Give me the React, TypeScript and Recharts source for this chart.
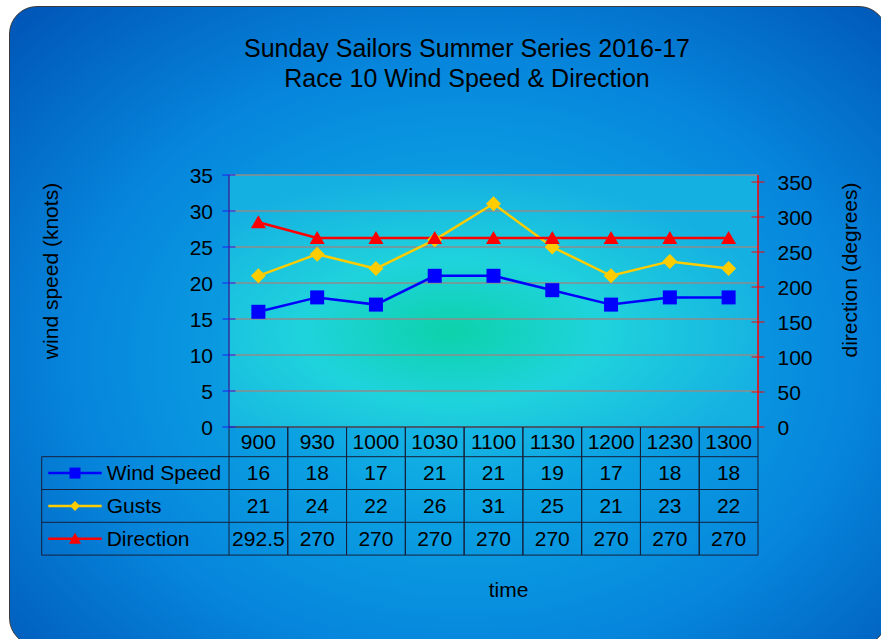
import React from "react";
import { LineChart, Line, XAxis, YAxis, CartesianGrid } from "recharts";

// race 10 readings
const times = ["900", "930", "1000", "1030", "1100", "1130", "1200", "1230", "1300"];
const windSpeed = [16, 18, 17, 21, 21, 19, 17, 18, 18];
const gusts = [21, 24, 22, 26, 31, 25, 21, 23, 22];
const direction = [292.5, 270, 270, 270, 270, 270, 270, 270, 270];
const seriesNames = ["Wind Speed", "Gusts", "Direction"];
const speedTicks = [0, 5, 10, 15, 20, 25, 30, 35];
const directionTicks = [0, 50, 100, 150, 200, 250, 300, 350];

const chartData = times.map((t, i) => ({
    time: t,
    windSpeed: windSpeed[i],
    gusts: gusts[i],
    direction: direction[i]
}));

const FONT = "'Liberation Sans', Arial, sans-serif";
const W = 881;
const H = 639;
const PLOT_LEFT = 229;
const PLOT_RIGHT = 758;
const PLOT_TOP = 175;
const PLOT_BOTTOM = 427;
const COL_W = (PLOT_RIGHT - PLOT_LEFT) / times.length;
const HEADER_H = 29.7;
const ROW_H = 32.8;
const LABEL_W = 187.3;
const GRID_LINE = "#15203a";

const BLUE = "#0000ff";
const YELLOW = "#ffcc00";
const RED = "#ff0000";

const SquareDot = (props: any) => {
    const { cx, cy } = props;
    if (cx == null || cy == null) return null;
    return <rect x={cx - 7} y={cy - 7} width={14} height={14} fill={BLUE} />;
};

const DiamondDot = (props: any) => {
    const { cx, cy } = props;
    if (cx == null || cy == null) return null;
    return <polygon points={`${cx},${cy - 7.5} ${cx + 7.5},${cy} ${cx},${cy + 7.5} ${cx - 7.5},${cy}`} fill={YELLOW} />;
};

const TriangleDot = (props: any) => {
    const { cx, cy } = props;
    if (cx == null || cy == null) return null;
    return <polygon points={`${cx},${cy - 7} ${cx + 7.5},${cy + 6} ${cx - 7.5},${cy + 6}`} fill={RED} />;
};

const legendMarker = (row: number, cx: number, cy: number) => {
    if (row === 0) return <rect x={cx - 5.5} y={cy - 5.5} width={11} height={11} fill={BLUE} />;
    if (row === 1) return <polygon points={`${cx},${cy - 5} ${cx + 5},${cy} ${cx},${cy + 5} ${cx - 5},${cy}`} fill={YELLOW} />;
    return <polygon points={`${cx},${cy - 6} ${cx + 6},${cy + 5} ${cx - 6},${cy + 5}`} fill={RED} />;
};

const seriesColors = [BLUE, YELLOW, RED];

// label column of the data table
const LegendColumn = ({ right, top }: { right: number; top: number }) => {
    const left = right - LABEL_W;
    return (
        <g>
            {seriesNames.map((name, r) => {
                const rowTop = top + r * ROW_H;
                const mid = rowTop + ROW_H / 2;
                return (
                    <g key={name}>
                        <line x1={left} x2={right} y1={rowTop} y2={rowTop} stroke={GRID_LINE} />
                        <line x1={left + 6.6} x2={left + 60} y1={mid} y2={mid} stroke={seriesColors[r]} strokeWidth={2.5} />
                        {legendMarker(r, left + 33.3, mid)}
                        <text x={left + 65} y={rowTop + 23.3} fontSize={21} fontFamily={FONT} fill="#000">
                            {name}
                        </text>
                    </g>
                );
            })}
            <line x1={left} x2={right} y1={top + 3 * ROW_H} y2={top + 3 * ROW_H} stroke={GRID_LINE} />
            <line x1={left} x2={left} y1={top} y2={top + 3 * ROW_H} stroke={GRID_LINE} />
        </g>
    );
};

// one column of the data table per category tick
const TableColumn = (props: any) => {
    const { x, y, payload } = props;
    const i = payload.index ?? props.index;
    const left = x - COL_W / 2;
    const right = x + COL_W / 2;
    const bottom = y + HEADER_H + 3 * ROW_H;
    const values = [windSpeed[i], gusts[i], direction[i]];
    return (
        <g>
            {i === 0 && <LegendColumn right={left} top={y + HEADER_H} />}
            <line x1={left} x2={right} y1={y} y2={y} stroke={GRID_LINE} />
            <line x1={left} x2={left} y1={y} y2={bottom} stroke={GRID_LINE} />
            <line x1={right} x2={right} y1={y} y2={bottom} stroke={GRID_LINE} />
            <text x={x} y={y + 22} textAnchor="middle" fontSize={21} fontFamily={FONT} fill="#000">
                {payload.value}
            </text>
            {values.map((v, r) => {
                const rowTop = y + HEADER_H + r * ROW_H;
                return (
                    <g key={r}>
                        <line x1={left} x2={right} y1={rowTop} y2={rowTop} stroke={GRID_LINE} />
                        <text x={x} y={rowTop + 23.3} textAnchor="middle" fontSize={21} fontFamily={FONT} fill="#000">
                            {v}
                        </text>
                    </g>
                );
            })}
            <line x1={left} x2={right} y1={bottom} y2={bottom} stroke={GRID_LINE} />
        </g>
    );
};

const LeftTick = (props: any) => {
    const { x, y, payload } = props;
    return (
        <g>
            <line x1={x - 6.5} x2={x + 6.5} y1={y} y2={y} stroke="#1e1ef0" />
            <text x={x - 16} y={y} dy="0.36em" textAnchor="end" fontSize={21} fontFamily={FONT} fill="#000">
                {payload.value}
            </text>
        </g>
    );
};

const RightTick = (props: any) => {
    const { x, y, payload } = props;
    return (
        <g>
            <line x1={x - 6.5} x2={x + 6.5} y1={y} y2={y} stroke={RED} />
            <text x={x + 19.5} y={y} dy="0.36em" textAnchor="start" fontSize={21} fontFamily={FONT} fill="#000">
                {payload.value}
            </text>
        </g>
    );
};

const App: React.FC = () => {
    return (
        <div style={{ position: "absolute", left: 0, top: 0, width: W, height: H, overflow: "hidden", fontFamily: FONT }}>
            <div
                style={{
                    position: "absolute",
                    left: 9,
                    top: 6,
                    width: 878,
                    height: 640,
                    borderRadius: 28,
                    border: "1px solid #3a3a3a",
                    boxSizing: "border-box",
                    background:
                        "radial-gradient(ellipse farthest-corner at 52% 55%, #1ec8e6 0%, #0ba0e2 32%, #0686dc 60%, #0054b6 100%)"
                }}
            />
            <div
                style={{
                    position: "absolute",
                    left: 167,
                    top: 33,
                    width: 600,
                    textAlign: "center",
                    fontSize: 25,
                    lineHeight: "30px",
                    color: "#000"
                }}
            >
                <div>Sunday Sailors Summer Series 2016-17</div>
                <div>Race 10 Wind Speed &amp; Direction</div>
            </div>
            <div style={{ position: "absolute", left: 0, top: 0 }}>
                <LineChart
                    width={W}
                    height={H}
                    data={chartData}
                    margin={{ top: PLOT_TOP, right: W - PLOT_RIGHT - 60, left: PLOT_LEFT - 60, bottom: 32 }}
                >
                    <defs>
                        <radialGradient id="plotBg" cx="0.42" cy="0.62" r="0.62">
                            <stop offset="0%" stopColor="#0cd2aa" />
                            <stop offset="45%" stopColor="#1fd3dc" />
                            <stop offset="100%" stopColor="#15b0e2" />
                        </radialGradient>
                    </defs>
                    <CartesianGrid
                        yAxisId="left"
                        vertical={false}
                        stroke="#8c8c8c"
                        strokeWidth={1.5}
                        fill="url(#plotBg)"
                        fillOpacity={1}
                    />
                    <XAxis
                        dataKey="time"
                        height={180}
                        interval={0}
                        padding={{ left: COL_W / 2, right: COL_W / 2 }}
                        axisLine={false}
                        tickLine={false}
                        tickSize={0}
                        tickMargin={0}
                        tick={TableColumn}
                        label={{
                            content: ({ viewBox }: any) => (
                                <text
                                    x={viewBox.x + viewBox.width / 2 + 15}
                                    y={viewBox.y + viewBox.height - 10}
                                    textAnchor="middle"
                                    fontSize={21}
                                    fontFamily={FONT}
                                    fill="#000"
                                >
                                    time
                                </text>
                            )
                        }}
                    />
                    <YAxis
                        yAxisId="left"
                        width={60}
                        domain={[0, 35]}
                        ticks={speedTicks}
                        interval={0}
                        axisLine={{ stroke: "#30309a", strokeWidth: 1.5 }}
                        tickLine={false}
                        tickSize={0}
                        tickMargin={0}
                        tick={LeftTick}
                        label={{
                            content: ({ viewBox }: any) => {
                                const lx = viewBox.x - 119;
                                const ly = PLOT_TOP + 96;
                                return (
                                    <text
                                        x={lx}
                                        y={ly}
                                        transform={`rotate(-90 ${lx} ${ly})`}
                                        dy="0.36em"
                                        textAnchor="middle"
                                        fontSize={21}
                                        fontFamily={FONT}
                                        fill="#000"
                                    >
                                        wind speed (knots)
                                    </text>
                                );
                            }
                        }}
                    />
                    <YAxis
                        yAxisId="right"
                        orientation="right"
                        width={60}
                        domain={[0, 360]}
                        ticks={directionTicks}
                        interval={0}
                        axisLine={{ stroke: RED, strokeWidth: 1.5 }}
                        tickLine={false}
                        tickSize={0}
                        tickMargin={0}
                        tick={RightTick}
                        label={{
                            content: ({ viewBox }: any) => {
                                const lx = viewBox.x + 91;
                                const ly = PLOT_TOP + 95;
                                return (
                                    <text
                                        x={lx}
                                        y={ly}
                                        transform={`rotate(-90 ${lx} ${ly})`}
                                        dy="0.36em"
                                        textAnchor="middle"
                                        fontSize={21}
                                        fontFamily={FONT}
                                        fill="#000"
                                    >
                                        direction (degrees)
                                    </text>
                                );
                            }
                        }}
                    />
                    <Line
                        yAxisId="left"
                        type="linear"
                        dataKey="windSpeed"
                        name="Wind Speed"
                        stroke={BLUE}
                        strokeWidth={2.5}
                        dot={SquareDot}
                        activeDot={false}
                        isAnimationActive={false}
                    />
                    <Line
                        yAxisId="left"
                        type="linear"
                        dataKey="gusts"
                        name="Gusts"
                        stroke={YELLOW}
                        strokeWidth={2.5}
                        dot={DiamondDot}
                        activeDot={false}
                        isAnimationActive={false}
                    />
                    <Line
                        yAxisId="right"
                        type="linear"
                        dataKey="direction"
                        name="Direction"
                        stroke={RED}
                        strokeWidth={2.5}
                        dot={TriangleDot}
                        activeDot={false}
                        isAnimationActive={false}
                    />
                </LineChart>
            </div>
        </div>
    );
};

export default App;
